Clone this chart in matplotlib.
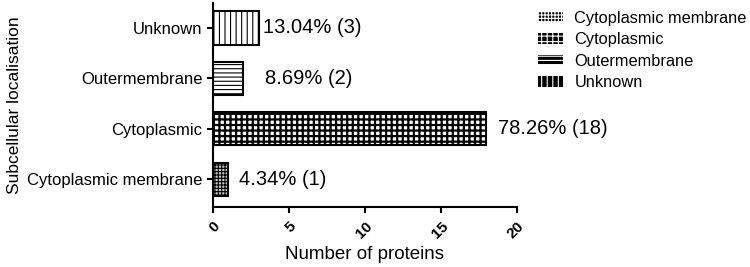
import matplotlib.pyplot as plt
from matplotlib.patches import Patch

plt.rcParams['font.family'] = ['Liberation Sans', 'DejaVu Sans']

categories = ['Cytoplasmic membrane', 'Cytoplasmic', 'Outermembrane', 'Unknown']
counts = [1, 18, 2, 3]
labels = ['4.34% (1)', '78.26% (18)', '8.69% (2)', '13.04% (3)']
label_x = [1.7, 18.75, 3.42, 3.29]
hatches = ['+++++', '+++', '----', '|||']
faces = ['#c8c8c8', 'white', 'white', 'white']
hatch_lw = [0.8, 1.6, 0.8, 0.8]

fig = plt.figure(figsize=(7.5, 2.67), dpi=100)
ax = fig.add_axes([0.284, 0.225, 0.405, 0.765])

ypos = range(len(categories))
for i, (c, n, h) in enumerate(zip(categories, counts, hatches)):
    plt.rcParams['hatch.linewidth'] = hatch_lw[i]
    b = ax.barh(i, n, height=0.66, color=faces[i], edgecolor='black',
                linewidth=1.5, hatch=h)
    for p in b:
        if hasattr(p, 'set_hatch_linewidth'):
            p.set_hatch_linewidth(hatch_lw[i])
    ax.text(label_x[i], i, labels[i], va='center', ha='left', fontsize=14.5)

ax.set_xlim(0, 20)
ax.set_ylim(-0.55, 3.5)
ax.set_xticks([0, 5, 10, 15, 20])
ax.set_xticklabels(['0', '5', '10', '15', '20'], rotation=45, ha='right',
                   fontsize=11, fontweight='bold', rotation_mode='anchor')
ax.set_yticks(list(ypos))
ax.set_yticklabels(categories, fontsize=12)
ax.spines['top'].set_visible(False)
ax.spines['right'].set_visible(False)
ax.spines['left'].set_linewidth(1.5)
ax.spines['bottom'].set_linewidth(1.5)
ax.tick_params(width=1.5, length=4)
ax.tick_params(axis='x', pad=5)
ax.set_xlabel('Number of proteins', fontsize=13.5, labelpad=3)
ax.set_ylabel('Subcellular localisation', fontsize=12.5, labelpad=4)

handles = []
for i in range(len(categories)):
    plt.rcParams['hatch.linewidth'] = 0.8
    handles.append(Patch(facecolor='black', edgecolor='white', linewidth=0,
                         hatch=hatches[i]))
fig.legend(handles=handles, labels=categories, loc='upper left',
           bbox_to_anchor=(0.698, 1.015), frameon=False, fontsize=11.8,
           handlelength=1.5, handleheight=0.6, labelspacing=0.4,
           handletextpad=0.7)

fig.savefig('out.png', dpi=100)
